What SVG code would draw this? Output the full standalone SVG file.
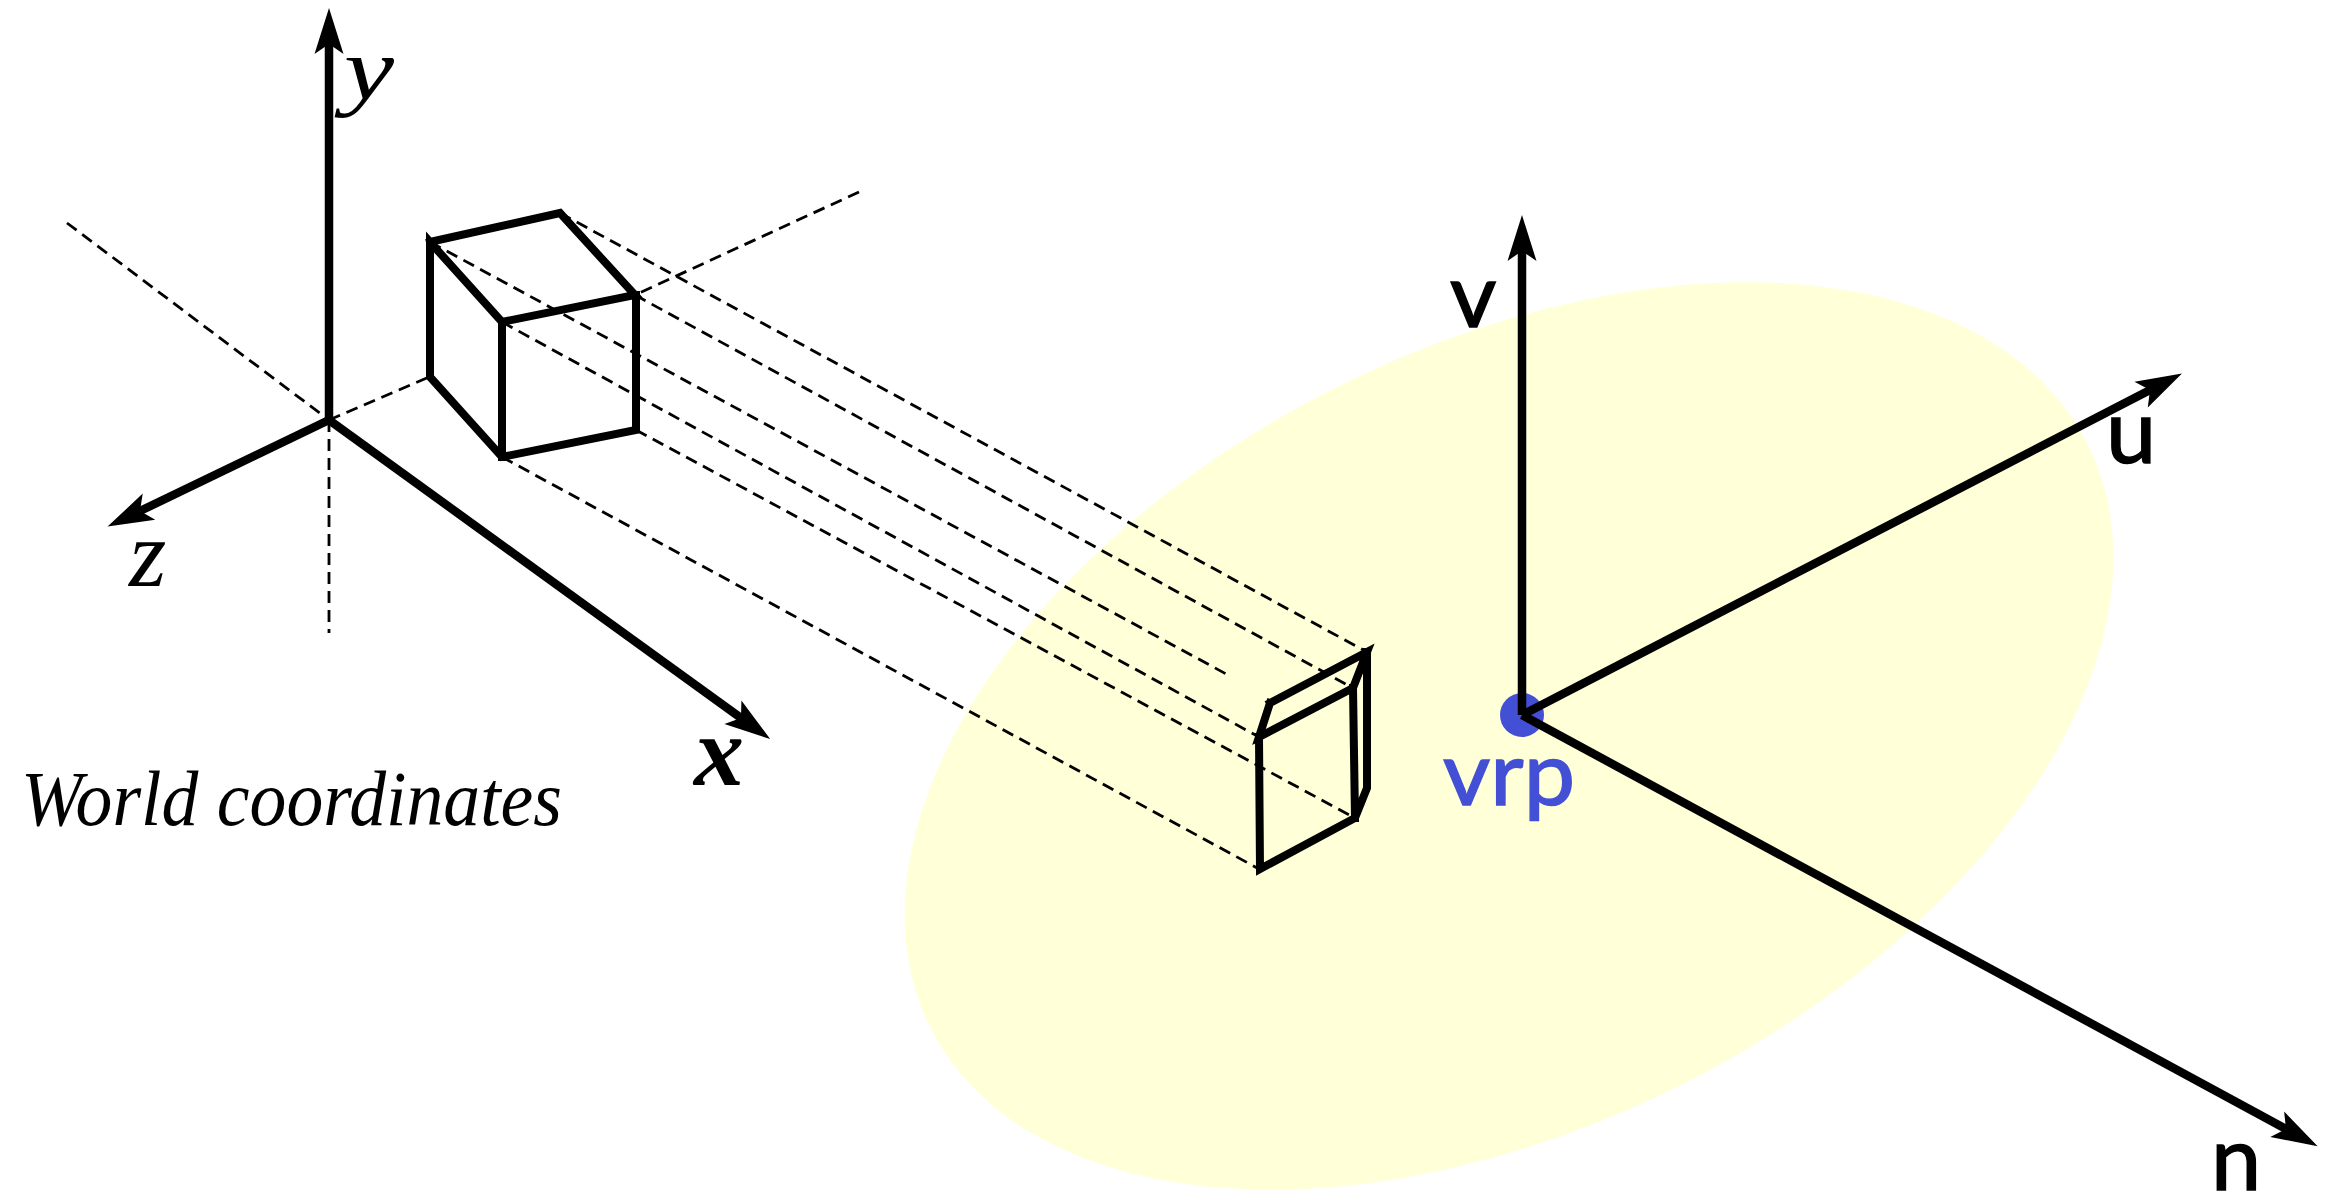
<svg xmlns="http://www.w3.org/2000/svg" width="2331" height="1192" viewBox="0 0 2331 1192">
<style>
.axis{fill:none;stroke:#000;stroke-width:8.5;marker-end:url(#arrow)}
.edge{fill:none;stroke:#000;stroke-width:8;stroke-linecap:square;stroke-linejoin:miter}
.dash{fill:none;stroke:#000;stroke-width:2.8;stroke-dasharray:12 7}
.serif{font-family:"Liberation Serif","Times New Roman",serif;font-style:italic;fill:#000}
.sans{font-family:Lato,"Open Sans",sans-serif;font-size:90px;fill:#000;stroke:#000;stroke-width:1.5}
</style>
<defs>
<marker id="arrow" markerUnits="userSpaceOnUse" markerWidth="52" markerHeight="34" viewBox="0 -17 52 34" refX="10" refY="0" orient="auto" overflow="visible">
<path d="M46,0 L0,-14.5 L10,0 L0,14.5 Z" fill="#000"/>
</marker>
</defs>
<rect width="2331" height="1192" fill="#fff"/>
<g id="view-plane"><ellipse cx="1509" cy="736" rx="648" ry="389" transform="rotate(-26.8 1509 736)" fill="#FFFFD8"/></g>
<g id="vrp"><circle cx="1522" cy="715" r="22" fill="#4350D5"/><text x="1443" y="805" class="sans" style="fill:#4350D5;stroke:#4350D5" textLength="132" lengthAdjust="spacingAndGlyphs">vrp</text></g>
<g id="connectors">
<path class="dash" d="M67,223L329,420M329,420L429,377M329,420V633M859,192L635,295"/>
<path class="dash" d="M560,213L1367,652M635,295L1353,688M430,242L1228,675M502,322L1259,737M636,430L1355,818M502,457L1259,869"/>
<path class="axis" d="M329,420V44"/>
<path class="axis" d="M329,420L140,511"/>
<path class="axis" d="M329,420L741,718"/>
<path class="axis" d="M1522,715V251"/>
<path class="axis" d="M1522,715L2150,390"/>
<path class="axis" d="M1522,715L2286,1129"/>
</g>
<g id="world-cube"><path class="edge" d="M430,242L560,213L635,295L502,322L430,242V377L502,457L636,430V295M502,322V457"/></g>
<g id="projected-cube"><path class="edge" d="M1270,703L1367,652L1353,688L1259,737L1270,703M1367,652V788L1355,818L1260,869L1259,737M1353,688L1355,818"/></g>
<g id="labels">
<text x="344" y="99" class="serif" font-size="88" textLength="50" lengthAdjust="spacingAndGlyphs">y</text>
<text x="129" y="586" class="serif" font-size="96">z</text>
<text x="694" y="785" class="serif" font-size="100" font-weight="bold">x</text>
<text x="21" y="825" class="serif" font-size="78" textLength="541" lengthAdjust="spacingAndGlyphs">World coordinates</text>
<text x="1450" y="327" class="sans">v</text>
<text x="2106" y="463" class="sans">u</text>
<text x="2211" y="1190" class="sans">n</text>
</g>
</svg>
